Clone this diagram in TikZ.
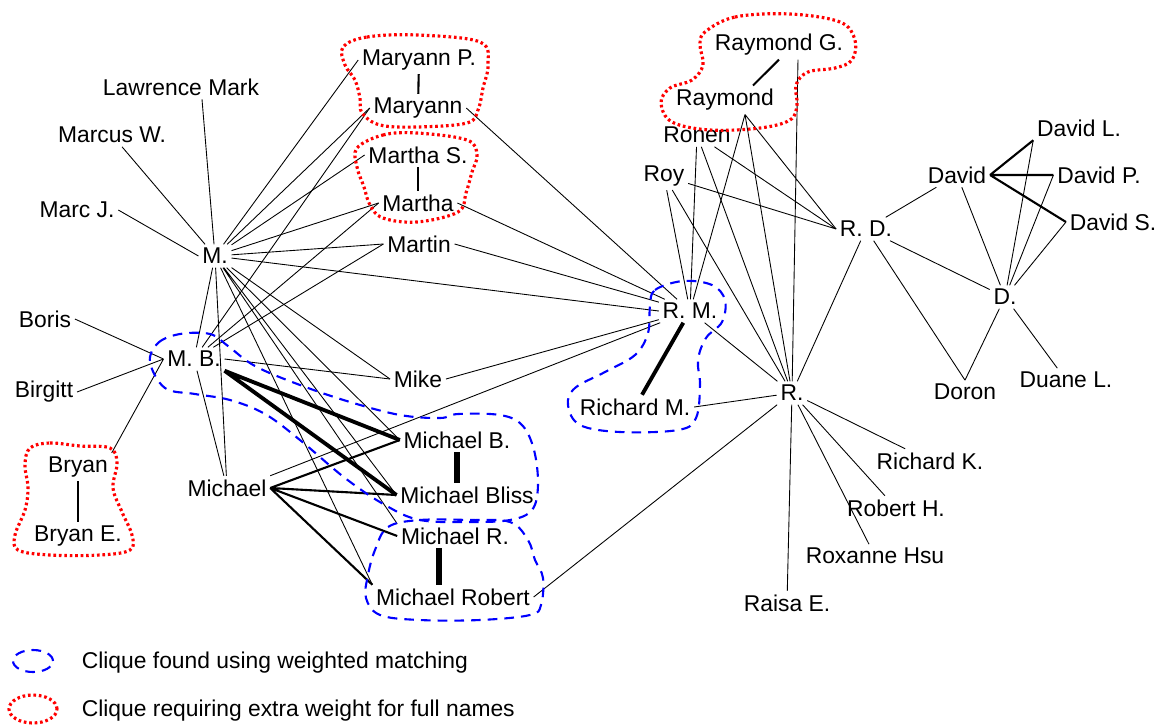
\documentclass[tikz,border=0pt]{standalone}
\usepackage{fontspec}
\setmainfont{Liberation Sans}
\usetikzlibrary{positioning}

\begin{document}
\begin{tikzpicture}
                [%%%%%%%%%%%%%%%%%%%%%%%%%%%%%%%%%%%%%%%%%%%%%%%%%%%%%%%%%%
                    x=0.02cm,y=-0.02cm,
                    person/.style={font=\fontsize{13}{15}\selectfont,inner sep=2pt},
                    tie/.style={line width=0.5pt},
                    midtie/.style={line width=1.2pt},
                    fattie/.style={line width=2.2pt},
                    bartie/.style={line width=3.2pt},
                    matched/.style={blue,line width=1.2pt,dash pattern=on 5.5pt off 4pt},
                    fullname/.style={red,line width=1.8pt,dash pattern=on 1.5pt off 1.6pt}
                ]%%%%%%%%%%%%%%%%%%%%%%%%%%%%%%%%%%%%%%%%%%%%%%%%%%%%%%%%%%
                \useasboundingbox (0,0) rectangle (1161,725);

                % left cluster
                \node[person] (lm)    at (181,87)  {Lawrence Mark};
                \node[person] (mw)    at (112,135) {Marcus W.};
                \node[person] (mj)    at (77,210)  {Marc J.};
                \node[person] (m)     at (215,256) {M.};
                \node[person] (myp)   at (419,60)  {Maryann P.};
                \node[person] (my)    at (418,108) {Maryann};
                \node[person] (mas)   at (418,155) {Martha S.};
                \node[person] (ma)    at (418,203) {Martha};
                \node[person] (mt)    at (419,244) {Martin};
                \node[person] (bo)    at (45,319)  {Boris};
                \node[person] (mb)    at (194,359) {M. B.};
                \node[person] (bi)    at (44,392)  {Birgitt};
                \node[person] (mk)    at (418,379) {Mike};
                \node[person] (br)    at (78,467)  {Bryan};
                \node[person] (bre)   at (78,536)  {Bryan E.};
                \node[person] (mi)    at (227,488) {Michael};
                \node[person] (mib)   at (457,440) {Michael B.};
                \node[person] (mibl)  at (467,495) {Michael Bliss};
                \node[person] (mir)   at (455,536) {Michael R.};
                \node[person] (mirob) at (453,597) {Michael Robert};

                % middle cluster
                \node[person] (rayg)  at (779,45)  {Raymond G.};
                \node[person] (ray)   at (725,100) {Raymond};
                \node[person] (ron)   at (697,135) {Ronen};
                \node[person] (roy)   at (664,176) {Roy};
                \node[person] (rd)    at (866,229) {R. D.};
                \node[person] (rm)    at (690,311) {R. M.};
                \node[person] (richm) at (635,407) {Richard M.};
                \node[person] (r)     at (792,393) {R.};
                \node[person] (rk)    at (930,461) {Richard K.};
                \node[person] (rh)    at (896,508) {Robert H.};
                \node[person] (rox)   at (875,556) {Roxanne Hsu};
                \node[person] (rai)   at (787,603) {Raisa E.};
                \coordinate (raybot) at ([xshift=0.4cm]ray.south);
                \coordinate (raygbot) at ([xshift=0.38cm]rayg.south);

                % right cluster
                \node[person] (dav)   at (957,175)  {David};
                \node[person] (dl)    at (1079,128) {David L.};
                \node[person] (dp)    at (1099,175) {David P.};
                \node[person] (ds)    at (1113,222) {David S.};
                \node[person] (d)     at (1005,297) {D.};
                \node[person] (dor)   at (965,392)  {Doron};
                \node[person] (dul)   at (1066,380) {Duane L.};

                % thin links
                \draw [tie] ([xshift=0.42cm]lm.south) -- (m) (m) -- (mw) (m.west) -- (mj.east);
                \draw [tie] (m) -- (myp.west) (m) -- (my.west) (m) -- (mas.west) (m) -- (ma.west) (m) -- (mt.west);
                \draw [tie] (m) -- (rm.west) (m) -- (mb) (m) -- (mi) (m) -- (mk.west) (m) -- (mib.west) (m) -- (mibl.west) (m) -- (mir.north west) (m) -- (mirob.north west);
                \draw [tie] (mb.west) -- (bo.east) (mb.west) -- (bi.east) (mb.west) -- (br.north east);
                \draw [tie] (mb) -- (my.west) (mb) -- (ma.west) (mb) -- (mt.west) (mb.east) -- (mk.west) (mb) -- (mi);
                \draw [tie] (mi.north east) -- (rm) (mk.east) -- (rm) (my.east) -- (rm) (ma.east) -- (rm) (mt.east) -- (rm) (rm) -- (r);
                \draw [tie] (roy) -- (rm) (roy) -- (r) (roy) -- (rd.west) (ron) -- (rm) (ron) -- (r) (ron) -- (rd.west);
                \draw [tie] (raybot) -- (rm) (raybot) -- (r) (raybot) -- (rd.west) (raygbot) -- (r) (rd) -- (r);
                \draw [tie] (r) -- (richm.east) (r) -- (mirob.east) (r) -- (rk) (r) -- (rh) (r) -- (rox) (r) -- (rai);
                \draw [tie] (rd) -- (dav) (rd) -- (d) (rd) -- (dor.north) (d) -- (dor.north) (d) -- (dul);
                \draw [tie] (d) -- (dav) (d) -- (dl.south west) (d) -- (dp.west) (d) -- (ds.west);

                % heavier links
                \draw [midtie] (myp) -- (my);
                \draw [midtie] (mas) -- (ma);
                \draw [midtie] (br) -- (bre);
                \draw [midtie] (rayg.south) -- ([xshift=0.56cm]ray.north);
                \draw [midtie] (mi.east) -- (mib.west) (mi.east) -- (mibl.west) (mi.east) -- (mir.west) (mi.east) -- (mirob.north west);
                \draw [midtie] (dav.east) -- (dl.south west) (dav.east) -- (dp.west) (dav.east) -- (ds.west);
                \draw [fattie] (mb.south east) -- (mib.west) (mb.south east) -- (mibl.west);
                \draw [fattie] (rm) -- (richm);
                \draw [bartie] (mib.south) -- (mib.south |- mibl.north);
                \draw [bartie] ([xshift=-0.32cm]mir.south) -- ([xshift=-0.32cm]mir.south |- mirob.north);

                % cliques found by matching
                \draw [matched] plot [smooth cycle,tension=0.6] coordinates {(150,362) (158,343) (180,334) (210,334) (228,346) (255,366) (300,385) (350,402) (400,415) (440,418) (458,414) (500,415) (522,425) (534,450) (538,485) (532,510) (510,520) (470,522) (420,520) (385,505) (345,478) (300,440) (265,414) (230,400) (195,394) (165,388)};
                \draw [matched] plot [smooth cycle,tension=0.6] coordinates {(388,527) (420,520) (470,520) (510,522) (528,540) (535,560) (543,578) (541,605) (530,615) (480,620) (420,620) (380,615) (366,598) (368,575) (375,550)};
                \draw [matched] plot [smooth cycle,tension=0.6] coordinates {(650,306) (655,290) (683,281) (712,285) (725,300) (722,322) (706,338) (698,360) (700,385) (696,418) (678,430) (620,432) (580,425) (568,405) (575,388) (605,372) (635,355) (648,333)};

                % cliques needing full names
                \draw [fullname] plot [smooth cycle,tension=0.6] coordinates {(343,47) (367,37) (417,35) (480,42) (488,65) (483,88) (478,110) (467,123) (417,127) (380,125) (362,113) (360,98) (355,80) (345,65)};
                \draw [fullname] plot [smooth cycle,tension=0.6] coordinates {(357,148) (383,135) (417,133) (467,140) (477,155) (472,172) (466,193) (458,212) (417,222) (383,218) (370,205) (364,187) (357,167)};
                \draw [fullname] plot [smooth cycle,tension=0.6] coordinates {(705,32) (735,17) (790,14) (840,22) (855,40) (852,60) (835,68) (808,72) (796,85) (797,105) (790,120) (760,128) (710,130) (672,122) (661,103) (670,88) (692,80) (703,65) (700,45)};
                \draw [fullname] plot [smooth cycle,tension=0.6] coordinates {(30,448) (50,443) (80,446) (110,448) (117,463) (113,488) (122,512) (132,535) (130,550) (100,555) (50,555) (18,550) (15,535) (25,510) (28,488) (25,465)};

                % legend
                \coordinate (k1) at (33,661);
                \coordinate (k2) at (33,709);
                \draw [matched] (k1) ellipse [x radius=0.4cm,y radius=0.22cm];
                \draw [fullname] (k2) ellipse [x radius=0.48cm,y radius=0.28cm];
                \node[person] (lg1) [right=0.9cm of k1,yshift=-0.04cm] {Clique found using weighted matching};
                \node[person] (lg2) [right=0.9cm of k2,yshift=-0.04cm] {Clique requiring extra weight for full names};
            \end{tikzpicture}
\end{document}
